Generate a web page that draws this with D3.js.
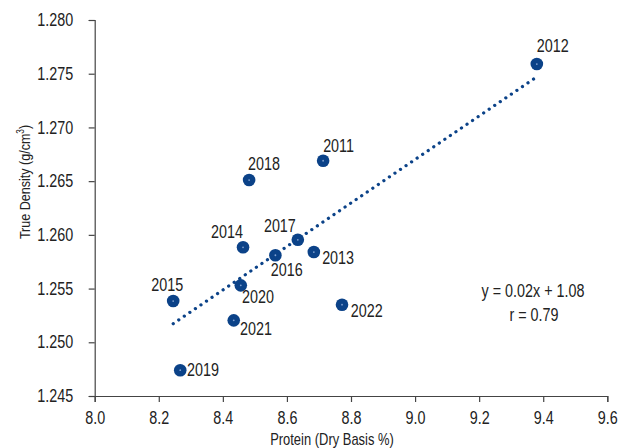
<!DOCTYPE html>
<html>
<head>
<meta charset="utf-8">
<script src="https://cdn.jsdelivr.net/npm/d3@7/dist/d3.min.js"></script>
<style>
html,body{margin:0;padding:0;background:#fff;}
svg{display:block;}
text{font-family:"Liberation Sans",Arial,sans-serif;fill:#222;}
</style>
</head>
<body>
<svg id="chart" width="628" height="448"></svg>
<script>
// Data
const years   = ["2012","2011","2018","2017","2014","2016","2013","2020","2015","2021","2022","2019"];
const protein = [9.380, 8.713, 8.482, 8.634, 8.463, 8.564, 8.684, 8.456, 8.245, 8.434, 8.772, 8.267];
const density = [1.2759, 1.2669, 1.2651, 1.25954, 1.25884, 1.2581, 1.2584, 1.2553, 1.25384, 1.25204, 1.2535, 1.2474];
const xTicks = [8.0, 8.2, 8.4, 8.6, 8.8, 9.0, 9.2, 9.4, 9.6];
const yTicks = [1.245, 1.250, 1.255, 1.260, 1.265, 1.270, 1.275, 1.280];
const equationText = "y = 0.02x + 1.08";
const rText = "r = 0.79";

// label placement (pixel offsets, anchor)
const labelPlace = {
  "2012": [0, -12.5, "start"],
  "2011": [0, -9, "start"],
  "2018": [-1, -10, "start"],
  "2017": [-2, -8, "end"],
  "2014": [0, -9, "end"],
  "2016": [-4.6, 21, "start"],
  "2013": [8.3, 12, "start"],
  "2020": [1.3, 18, "start"],
  "2015": [10, -10.3, "end"],
  "2021": [6.3, 14.4, "start"],
  "2022": [8.7, 12, "start"],
  "2019": [6.7, 6, "start"]
};

const SX = 0.82; // horizontal condensing to mimic a narrow face
const svg = d3.select("#chart");
function addText(parent, px, py, str, size, anchor) {
  return parent.append("text")
    .attr("transform", `translate(${px},${py}) scale(${SX},1)`)
    .attr("text-anchor", anchor).attr("font-size", size).text(str);
}

const x = d3.scaleLinear().domain([8.0, 9.6]).range([94.7, 607.3]);
const y = d3.scaleLinear().domain([1.245, 1.280]).range([396, 20]);

const axisColor = "#444";

// axes
const xAxis = svg.append("g").attr("transform", "translate(0,396)")
  .call(d3.axisBottom(x).tickValues(xTicks).tickFormat(d3.format(".1f")).tickSizeOuter(0).tickSize(6).tickPadding(6));
const yAxis = svg.append("g").attr("transform", "translate(94.7,0)")
  .call(d3.axisLeft(y).tickValues(yTicks).tickFormat(d3.format(".3f")).tickSizeOuter(0).tickSize(6).tickPadding(15));
[xAxis, yAxis].forEach(g => {
  g.select(".domain").attr("stroke", axisColor).attr("stroke-width", 1.2);
  g.selectAll(".tick line").attr("stroke", axisColor).attr("stroke-width", 1.2);
  g.selectAll(".tick text").attr("font-size", 17.5).attr("fill", "#222")
    .attr("font-family", '"Liberation Sans",Arial,sans-serif')
    .attr("transform", `scale(${SX},1)`);
});
xAxis.selectAll(".tick text").attr("dy", "0.9em");
yAxis.selectAll(".tick text").attr("x", -21.5 / SX);

// axis titles
addText(svg, 332, 445, "Protein (Dry Basis %)", 15.8, "middle");
const yt = svg.append("text").attr("transform", `translate(30,182) rotate(-90) scale(${SX},1)`)
  .attr("text-anchor", "middle").attr("font-size", 15.3);
yt.append("tspan").text("True Density (g/cm");
yt.append("tspan").attr("dy", -6).attr("font-size", 10).text("3");
yt.append("tspan").attr("dy", 6).text(")");

// regression
const n = protein.length;
const mx = d3.mean(protein), my = d3.mean(density);
let sxy = 0, sxx = 0;
for (let i = 0; i < n; i++) { sxy += (protein[i]-mx)*(density[i]-my); sxx += (protein[i]-mx)**2; }
const b = sxy / sxx, a = my - b*mx;
const x0 = d3.min(protein), x1 = d3.max(protein) - 0.01;
svg.append("line")
  .attr("x1", x(x0)).attr("y1", y(a + b*x0))
  .attr("x2", x(x1)).attr("y2", y(a + b*x1))
  .attr("stroke", "#0b4288").attr("stroke-width", 3.2)
  .attr("stroke-linecap", "round").attr("stroke-dasharray", "0.1 6.6");

// points
const color = "#0b4288";
const pts = svg.append("g");
years.forEach((yr, i) => {
  pts.append("circle").attr("cx", x(protein[i])).attr("cy", y(density[i])).attr("r", 6.3).attr("fill", color);
  pts.append("circle").attr("cx", x(protein[i])).attr("cy", y(density[i])).attr("r", 0.9).attr("fill", "#7f9fcf");
  const p = labelPlace[yr];
  addText(svg, x(protein[i]) + p[0], y(density[i]) + p[1], yr, 17.5, p[2]);
});

// equation
addText(svg, 533, 296.7, equationText, 17.5, "middle");
addText(svg, 534, 321.3, rText, 17.5, "middle");
</script>
</body>
</html>
